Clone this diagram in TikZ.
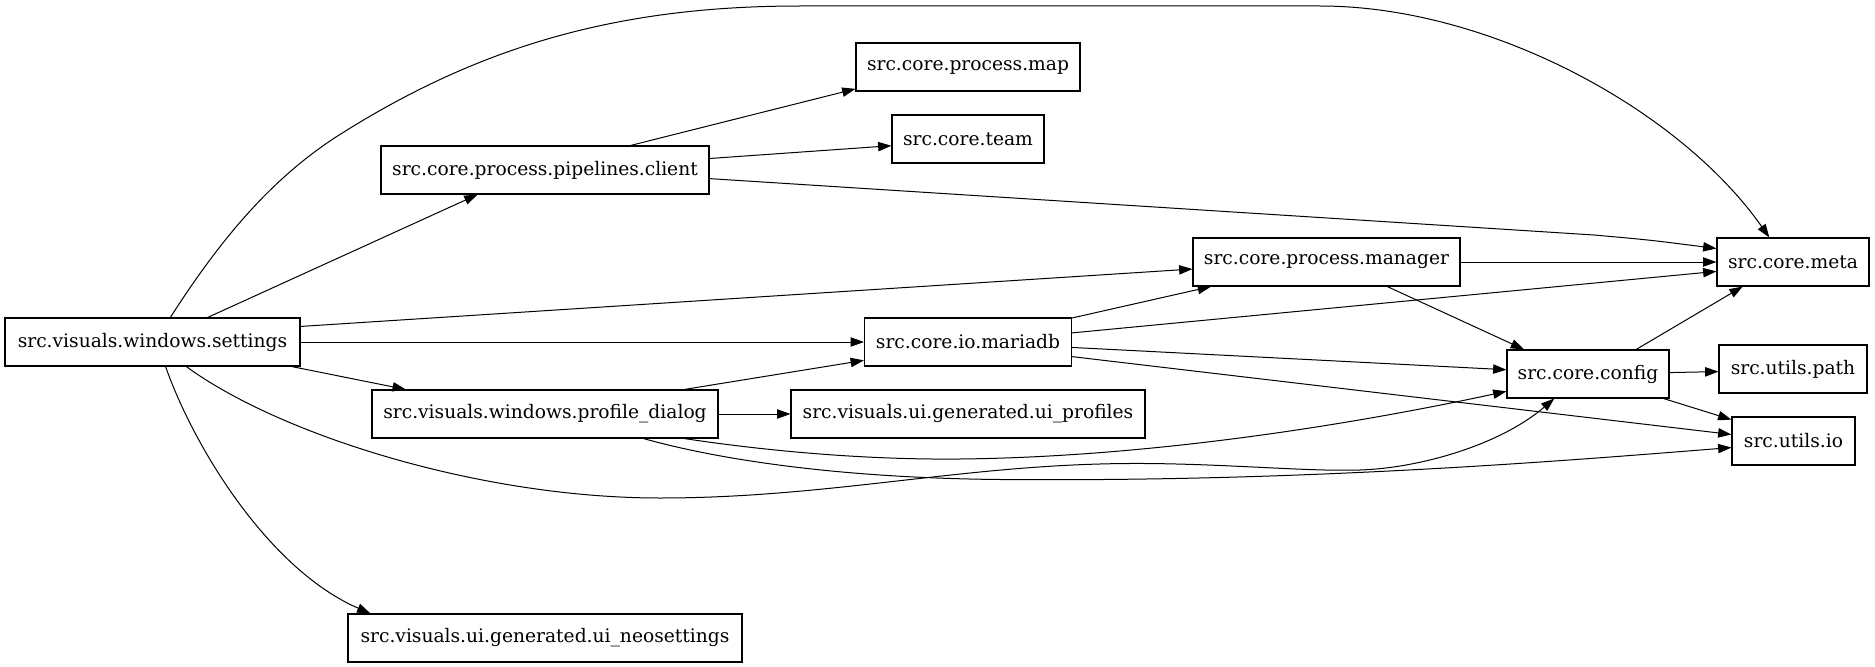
\documentclass[tikz,border=0pt]{standalone}
\usepackage{fontspec}
\setmainfont{DejaVu Serif}
\usepackage{tikz}
\usetikzlibrary{arrows.meta}

\begin{document}
\begin{tikzpicture}[x=0.75pt, y=-0.75pt,
  every node/.style={font=\fontsize{14pt}{17pt}\selectfont},
  modbox/.style={draw, line width=0.8pt, minimum height=36pt, inner sep=0pt},
  dep/.style={-{Triangle[length=10pt,width=7pt]}, line width=0.75pt}]

\useasboundingbox (0,0) rectangle (1875,667);

% modules
\node[modbox, minimum width=221.25pt] (settings) at (152.5,342) {src.visuals.windows.settings};
\node[modbox, minimum width=246pt]    (pipeclient) at (545,170) {src.core.process.pipelines.client};
\node[modbox, minimum width=259.5pt]  (profiledlg) at (545,414) {src.visuals.windows.profile\_dialog};
\node[modbox, minimum width=295.5pt]  (uineo) at (545,638) {src.visuals.ui.generated.ui\_neosettings};
\node[modbox, minimum width=168pt]    (procmap) at (968,67) {src.core.process.map};
\node[modbox, minimum width=114pt]    (coreteam) at (968,139) {src.core.team};
\node[modbox, minimum width=155.25pt] (mariadb) at (968,342) {src.core.io.mariadb};
\node[modbox, minimum width=265.5pt]  (uiprofiles) at (968,414) {src.visuals.ui.generated.ui\_profiles};
\node[modbox, minimum width=200.25pt] (procmanager) at (1326.5,262) {src.core.process.manager};
\node[modbox, minimum width=121.5pt]  (coreconfig) at (1588,374) {src.core.config};
\node[modbox, minimum width=114pt]    (coremeta) at (1793,262) {src.core.meta};
\node[modbox, minimum width=111pt]    (utilspath) at (1793,369) {src.utils.path};
\node[modbox, minimum width=92.25pt]  (utilsio) at (1793.5,441) {src.utils.io};

% imports of settings
\draw[dep] (settings.54) .. controls (220,240) and (270,180) .. (336,137)
  .. controls (480,45) and (620,6) .. (800,6) -- (1320,6)
  .. controls (1490,6) and (1680,110) .. (coremeta.134);
\draw[dep] (settings.24) -- (pipeclient.200);
\draw[dep] (settings.6) -- (procmanager.183);
\draw[dep] (settings.east) -- (mariadb.west);
\draw[dep] (settings.-10) -- (profiledlg.170);
\draw[dep] (settings.-36) .. controls (280,435) and (480,498) .. (660,498)
  .. controls (820,498) and (950,468) .. (1100,464)
  .. controls (1200,461) and (1300,472) .. (1360,470)
  .. controls (1420,468) and (1500,445) .. (coreconfig.216);
\draw[dep] (settings.-62) .. controls (195,450) and (270,570) .. (uineo.172);

% imports of pipelines.client
\draw[dep] (pipeclient.16) -- (procmap.191);
\draw[dep] (pipeclient.4) -- (coreteam.185);
\draw[dep] (pipeclient.-3) -- (1594,235) .. controls (1650,240) .. (coremeta.170);

% imports of profile_dialog
\draw[dep] (profiledlg.10) -- (mariadb.190);
\draw[dep] (profiledlg.east) -- (uiprofiles.west);
\draw[dep] (profiledlg.-10) .. controls (760,450) and (860,460) .. (960,459)
  .. controls (1150,457) and (1350,425) .. (coreconfig.192);
\draw[dep] (profiledlg.-14) .. controls (720,460) and (840,478) .. (1000,479.5)
  .. controls (1300,482) and (1550,462) .. (utilsio.186);

% imports of mariadb
\draw[dep] (mariadb.13) -- (procmanager.192);
\draw[dep] (mariadb.5) -- (coremeta.187);
\draw[dep] (mariadb.-3) -- (coreconfig.177);
\draw[dep] (mariadb.-8) -- (utilsio.174);

% imports of manager and config
\draw[dep] (procmanager.east) -- (coremeta.west);
\draw[dep] (procmanager.-22) -- (coreconfig.159);
\draw[dep] (coreconfig.27) -- (coremeta.206);
\draw[dep] (coreconfig.1) -- (utilspath.182);
\draw[dep] (coreconfig.-18) -- (utilsio.161);

\end{tikzpicture}
\end{document}
